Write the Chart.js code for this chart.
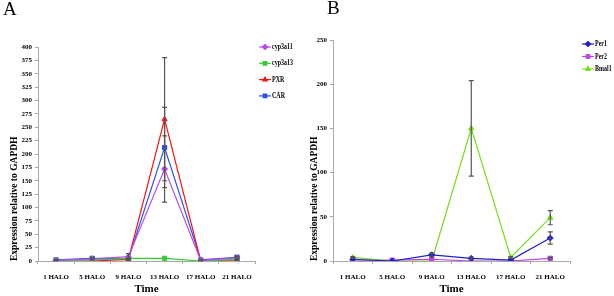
<!DOCTYPE html>
<html>
<head>
<meta charset="utf-8">
<script src="https://cdn.jsdelivr.net/npm/chart.js@4"></script>
<style>
  body { margin: 0; background: #fff; }
  #wrap { position: relative; width: 614px; height: 296px; }
  canvas { position: absolute; top: 0; }
  .lbl { position: absolute; font-family: "Liberation Serif", serif; font-size: 19px; color: #000; }
</style>
</head>
<body>
<div id="wrap">
  <canvas id="chartA" width="300" height="296" style="left:0;width:300px;height:296px"></canvas>
  <canvas id="chartB" width="314" height="296" style="left:300px;width:314px;height:296px"></canvas>
  <div class="lbl" style="left:3px;top:-2px">A</div>
  <div class="lbl" style="left:327px;top:-3px">B</div>
</div>
<script>
var timeLabels = ["1 HALO", "5 HALO", "9 HALO", "13 HALO", "17 HALO", "21 HALO"];

// panel A
var cyp3a11 = [1, 4, 8, 172, 1, 6];
var cyp3a11Err = [1, 2, 6, 62, 1, 2];
var cyp3a13 = [1, 2, 5, 5, 0, 3];
var cyp3a13Err = [0, 0, 0, 0, 0, 0];
var pxr = [0, 0, 3, 265, 0, 2];
var pxrErr = [0, 0, 2, 115, 0, 1];
var car = [2, 5, 4, 212, 2, 7];
var carErr = [1, 2, 2, 75, 1, 2];

// panel B
var per1 = [2, 0, 7, 3, 1, 26];
var per1Err = [0, 0, 2, 1, 0, 7];
var per2 = [0, 1, 2, 0, 0, 3];
var per2Err = [0, 0, 0, 0, 0, 1];
var bmal1 = [4, 0, 0, 150, 4, 49];
var bmal1Err = [1, 0, 0, 54, 1, 8];

var serif = "'Liberation Serif', 'Times New Roman', serif";
var yTitle = "Expression relative to GAPDH";

function ds(label, data, err, color, style) {
    return {
        label: label, data: data, err: err,
        borderColor: color, backgroundColor: color,
        borderWidth: 1.2, pointStyle: style, pointRadius: 3,
        pointBorderWidth: 1, tension: 0
    };
}

var errorBars = {
    id: 'errorBars',
    afterDatasetsDraw(chart) {
        var ctx = chart.ctx, y = chart.scales.y;
        ctx.save();
        ctx.strokeStyle = "#555";
        ctx.lineWidth = 1.2;
        chart.data.datasets.forEach(function (d, i) {
            var meta = chart.getDatasetMeta(i);
            meta.data.forEach(function (pt, j) {
                var e = d.err[j];
                if (!e) return;
                var top = y.getPixelForValue(d.data[j] + e);
                var bot = y.getPixelForValue(Math.max(0, d.data[j] - e));
                ctx.beginPath();
                ctx.moveTo(pt.x, top); ctx.lineTo(pt.x, bot);
                ctx.moveTo(pt.x - 2.5, top); ctx.lineTo(pt.x + 2.5, top);
                ctx.moveTo(pt.x - 2.5, bot); ctx.lineTo(pt.x + 2.5, bot);
                ctx.stroke();
            });
        });
        ctx.restore();
    }
};

// legend on the right: short line with the marker, narrow label
var sideLegend = {
    id: 'sideLegend',
    afterDraw(chart, args, opts) {
        var ctx = chart.ctx;
        ctx.save();
        ctx.textBaseline = "middle";
        chart.data.datasets.forEach(function (d, i) {
            var yy = opts.y + i * opts.gap;
            ctx.strokeStyle = d.borderColor;
            ctx.lineWidth = 1.2;
            ctx.beginPath();
            ctx.moveTo(opts.x, yy); ctx.lineTo(opts.x + 12, yy);
            ctx.stroke();
            Chart.helpers.drawPoint(ctx, { pointStyle: d.pointStyle, radius: 2.5, borderWidth: 1, rotation: 0 }, opts.x + 6, yy);
            ctx.fillStyle = d.borderColor;
            ctx.fill();
            ctx.save();
            ctx.translate(opts.x + 13, yy);
            ctx.scale(0.75, 1);
            ctx.font = "bold 8px " + serif;
            ctx.fillStyle = "#000";
            ctx.fillText(d.label, 0, 0);
            ctx.restore();
        });
        ctx.restore();
    }
};

function makeChart(id, datasets, max, step, axisW, padRight, padTop, legendPos) {
    return new Chart(document.getElementById(id), {
        type: "line",
        data: { labels: timeLabels, datasets: datasets },
        options: {
            responsive: false,
            animation: false,
            layout: { padding: { left: 0, right: padRight, top: padTop, bottom: 0 } },
            plugins: {
                legend: { display: false },
                tooltip: { enabled: false },
                sideLegend: legendPos
            },
            scales: {
                x: {
                    offset: true,
                    grid: { offset: true, drawOnChartArea: false, drawTicks: true, tickLength: 3, color: "#aaa" },
                    border: { color: "#aaa" },
                    ticks: { autoSkip: false, color: "#000", font: { family: serif, size: 7, weight: "bold" }, padding: 9, maxRotation: 0 },
                    title: { display: true, text: "Time", color: "#000", font: { family: serif, size: 11, weight: "bold" }, padding: { top: 2, bottom: 0 } },
                    afterFit(s) { s.height = 35; }
                },
                y: {
                    min: 0, max: max,
                    grid: { drawOnChartArea: false, drawTicks: true, tickLength: 3, color: "#aaa" },
                    border: { color: "#aaa" },
                    ticks: { stepSize: step, color: "#000", font: { family: serif, size: 7, weight: "bold" }, padding: 3 },
                    title: { display: true, align: "start", text: yTitle, color: "#000", font: { family: serif, size: 9.5, weight: "bold" }, padding: { top: 9, bottom: 0 } },
                    afterFit(s) { s.width = axisW; }
                }
            }
        },
        plugins: [errorBars, sideLegend]
    });
}

makeChart("chartA", [
    ds("cyp3a11", cyp3a11, cyp3a11Err, "#b44cf0", "rectRot"),
    ds("cyp3a13", cyp3a13, cyp3a13Err, "#33cc33", "rect"),
    ds("PXR", pxr, pxrErr, "#ff1010", "triangle"),
    ds("CAR", car, carErr, "#2250ff", "rect")
], 400, 25, 38, 45, 47, { x: 259, y: 47, gap: 16.3 });

makeChart("chartB", [
    ds("Per1", per1, per1Err, "#2020d0", "rectRot"),
    ds("Per2", per2, per2Err, "#c040f0", "rect"),
    ds("Bmal1", bmal1, bmal1Err, "#70e010", "triangle")
], 250, 50, 33, 44, 40, { x: 282, y: 44, gap: 12.5 });
</script>
</body>
</html>
